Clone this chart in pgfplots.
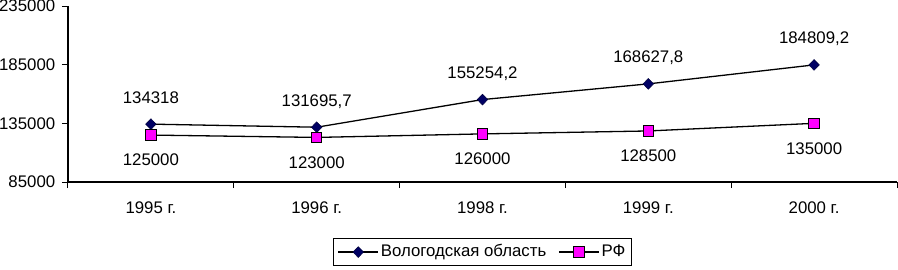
\documentclass[border=0pt]{standalone}
\usepackage{pgfplots}
\pgfplotsset{compat=1.18}
\usepackage{fontspec}
\setmainfont{Liberation Sans}
\definecolor{navyv}{RGB}{0,0,100}
\definecolor{magrf}{RGB}{255,0,255}
\newcommand{\ff}{\fontsize{16.8}{19}\selectfont}
\begin{document}
\ff
\begin{tikzpicture}[x=1pt,y=1pt]
\begin{axis}[
  at={(68pt,87pt)}, anchor=south west,
  width=829pt, height=176pt, scale only axis,
  xmin=-0.5, xmax=4.5, ymin=85000, ymax=235000,
  axis x line=bottom, axis y line=left,
  axis line style={-, line width=1.3pt},
  xtick={0,1,2,3,4},
  xticklabels={1995 г.,1996 г.,1998 г.,1999 г.,2000 г.},
  minor xtick={-0.5,0.5,1.5,2.5,3.5,4.5},
  ytick={85000,135000,185000,235000},
  yticklabels={85000,135000,185000,235000},
  tick align=outside,
  major tick length=6pt, minor tick length=6pt,
  every major x tick/.append style={draw=none},
  every tick/.append style={line width=1pt, black},
  scaled y ticks=false,
  tick label style={font=\ff},
  xticklabel style={yshift=-8pt},
  yticklabel style={xshift=-1pt},
  nodes near coords={\pgfplotspointmeta},
  point meta=explicit symbolic,
  every node near coord/.append style={font=\ff, anchor=center},
  legend style={at={(0.5,-0.398)}, anchor=center, draw=black, line width=1pt,
    font=\ff, inner xsep=4pt, inner ysep=4pt,
    /tikz/every even column/.append style={column sep=10pt}},
  legend columns=2,
  legend image code/.code={\draw[#1, line width=1.2pt, mark=none] (0pt,0pt) -- (40pt,0pt);
     \draw[#1, only marks] plot coordinates {(20pt,0pt)};},
]
\addplot[black, line width=1.3pt, mark=diamond*, mark size=5.4pt,
  mark options={fill=navyv, draw=navyv!60!black, line width=0.5pt, solid, xscale=1.3},
  every node near coord/.append style={yshift=26pt}]
  coordinates {(0,134318)[134318] (1,131695.7)[131695,7] (2,155254.2)[155254,2] (3,168627.8)[168627,8] (4,184809.2)[184809,2]};
\addlegendentry{Вологодская область}
\addplot[black, line width=1.3pt, mark=square*, mark size=5.3pt,
  mark options={fill=magrf, draw=black, line width=1pt, solid},
  every node near coord/.append style={yshift=-25pt}]
  coordinates {(0,125000)[125000] (1,123000)[123000] (2,126000)[126000] (3,128500)[128500] (4,135000)[135000]};
\addlegendentry{РФ}
\end{axis}
\pgfresetboundingbox
\path (0pt,0pt) rectangle (898pt,269pt);
\end{tikzpicture}
\end{document}
